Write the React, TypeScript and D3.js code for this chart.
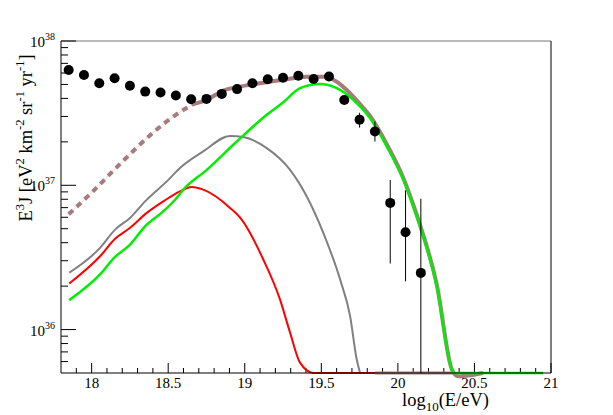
import React from 'react';
import * as d3 from 'd3';

// measured spectrum (log10 E, E^3 J) with asymmetric error bounds
const dataE = [17.85, 17.95, 18.05, 18.15, 18.25, 18.35, 18.45, 18.55, 18.65, 18.75, 18.85, 18.95,
  19.05, 19.15, 19.25, 19.35, 19.45, 19.55, 19.65, 19.75, 19.85, 19.95, 20.05, 20.15];
const dataFlux = [6.30e37, 5.82e37, 5.10e37, 5.52e37, 4.89e37, 4.46e37, 4.39e37, 4.19e37, 3.95e37, 3.97e37,
  4.30e37, 4.64e37, 5.10e37, 5.43e37, 5.57e37, 5.75e37, 5.46e37, 5.68e37, 3.90e37, 2.85e37, 2.36e37,
  7.55e36, 4.72e36, 2.47e36];
const dataHigh = [null, null, null, null, null, null, null, null, null, null, null, null,
  null, null, null, null, null, null, null, 3.18e37, 2.77e37, 1.09e37, 9.23e36, 8.07e36];
const dataLow = [null, null, null, null, null, null, null, null, null, null, null, null,
  null, null, null, null, null, null, null, 2.51e37, 2.01e37, 2.87e36, 2.16e36, 1e35];

// total model: dashed extrapolation then solid fit
const totalDashE = [17.85, 18.0, 18.2, 18.4, 18.55, 18.665];
const totalDashFlux = [6.3e36, 8.9e36, 1.456e37, 2.31e37, 3.08e37, 3.66e37];
const totalE = [18.665, 18.752, 18.86, 18.969, 19.10, 19.274, 19.405, 19.513, 19.557, 19.666, 19.753,
  19.818, 19.927, 20.036, 20.101, 20.145, 20.254, 20.352, 20.393, 20.471, 20.556];
const totalFlux = [3.66e37, 3.91e37, 4.53e37, 4.83e37, 5.10e37, 5.43e37, 5.66e37, 5.66e37, 5.52e37, 4.58e37,
  3.65e37, 3.02e37, 1.93e37, 1.12e37, 7.3e36, 5.3e36, 2.05e36, 5.31e35, 4.74e35, 4.82e35, 5.0e35];
const totalFloorE = [19.85, 20.36];
const totalFloorFlux = [5.0e35, 5.0e35];

const grayE = [17.854, 18.055, 18.153, 18.251, 18.349, 18.501, 18.577, 18.729, 18.904, 18.991, 19.144,
  19.296, 19.405, 19.513, 19.623, 19.688, 19.731, 19.753];
const grayFlux = [2.475e36, 3.68e36, 4.93e36, 5.94e36, 7.74e36, 1.09e37, 1.318e37, 1.716e37, 2.20e37,
  2.16e37, 1.81e37, 1.28e37, 8.37e36, 4.68e36, 2.22e36, 1.24e36, 6.22e35, 5.0e35];

const redE = [17.854, 18.055, 18.153, 18.251, 18.36, 18.468, 18.577, 18.654, 18.729, 18.904, 18.98,
  19.121, 19.23, 19.296, 19.361, 19.448, 19.85];
const redFlux = [2.087e36, 3.22e36, 4.26e36, 5.07e36, 6.44e36, 7.74e36, 9.08e36, 9.73e36, 9.33e36,
  6.97e36, 5.78e36, 3.06e36, 1.62e36, 9.52e35, 5.90e35, 5.0e35, 5.0e35];

const greenE = [17.854, 18.055, 18.153, 18.251, 18.349, 18.468, 18.545, 18.599, 18.752, 18.948, 19.144,
  19.252, 19.361, 19.492, 19.601, 19.709, 19.818, 19.927, 20.036, 20.101, 20.145, 20.254, 20.352, 20.37, 20.948];
const greenFlux = [1.60e36, 2.41e36, 3.19e36, 3.88e36, 5.20e36, 6.60e36, 7.94e36, 9.33e36, 1.28e37,
  2.01e37, 3.08e37, 3.76e37, 4.71e37, 5.04e37, 4.71e37, 3.91e37, 2.92e37, 1.86e37, 1.09e37, 7.15e36,
  5.20e36, 2.00e36, 5.31e35, 5.0e35, 5.0e35];

const W = 613;
const H = 415;
const left = 61;
const right = 551;
const top = 41;
const bottom = 373;
const font = '"Liberation Serif", "DejaVu Serif", serif';

const x = d3.scaleLinear().domain([17.8, 21]).range([left, right]);
const y = d3.scaleLog().domain([5e35, 1e38]).range([bottom, top]);

const pairs = (es: number[], fs: number[]) => es.map((e, i) => [e, fs[i]] as [number, number]);
const line = d3.line<[number, number]>()
  .x(d => x(d[0]))
  .y(d => y(d[1]))
  .curve(d3.curveMonotoneX);

export default function App() {
  const xTicks = d3.range(179, 211).map(d => d / 10);
  const yTicks: { v: number; major: boolean }[] = [];
  [35, 36, 37].forEach(k => {
    for (let m = 1; m <= 9; m++) {
      const v = m * Math.pow(10, k);
      if (v >= 5e35 && v <= 1e38) yTicks.push({ v, major: m === 1 });
    }
  });
  yTicks.push({ v: 1e38, major: true });

  return (
    <svg width={W} height={H} style={{ position: 'absolute', left: 0, top: 0, background: '#fff' }}
      fontFamily={font}>
      {/* frame */}
      <line x1={left} x2={right} y1={top} y2={top} stroke="#777" strokeWidth={1} />
      <line x1={right} x2={right} y1={top} y2={bottom} stroke="#000" strokeWidth={1} />

      {/* x ticks */}
      {xTicks.map(t => {
        const major = Math.round(t * 10) % 5 === 0;
        return (
          <line key={'xt' + t} x1={x(t)} x2={x(t)} y1={bottom} y2={bottom - (major ? 10 : 5)}
            stroke="#000" strokeWidth={1} />
        );
      })}
      {[18, 18.5, 19, 19.5, 20, 20.5, 21].map(t => (
        <text key={'xl' + t} x={x(t)} y={388} fontSize={15} textAnchor="middle">{t}</text>
      ))}

      {/* y ticks */}
      {yTicks.map(t => (
        <line key={'yt' + t.v} x1={left} x2={left + (t.major ? 15 : 7)} y1={y(t.v)} y2={y(t.v)}
          stroke="#000" strokeWidth={1} />
      ))}
      {[36, 37, 38].map(k => (
        <text key={'yl' + k} x={55} y={y(Math.pow(10, k)) + 6} fontSize={15} textAnchor="end">
          10<tspan dy={-7} fontSize={10}>{k}</tspan>
        </text>
      ))}

      {/* axis titles */}
      <text x={402} y={406} fontSize={18.5}>
        log<tspan dy={5} fontSize={13}>10</tspan><tspan dy={-5}>(E/eV)</tspan>
      </text>
      <text transform={`translate(32, 138) rotate(-90)`} fontSize={18.5} textAnchor="middle">
        E<tspan dy={-8} fontSize={12.5}>3</tspan><tspan dy={8}>J [eV</tspan>
        <tspan dy={-8} fontSize={12.5}>2</tspan><tspan dy={8}> km</tspan>
        <tspan dy={-8} fontSize={12.5}>-2</tspan><tspan dy={8}> sr</tspan>
        <tspan dy={-8} fontSize={12.5}>-1</tspan><tspan dy={8}> yr</tspan>
        <tspan dy={-8} fontSize={12.5}>-1</tspan><tspan dy={8}>]</tspan>
      </text>

      {/* model curves */}
      <path d={line(pairs(totalDashE, totalDashFlux)) ?? ''} fill="none" stroke="#f2e6e6" strokeWidth={1.2} />
      <path d={line(pairs(totalDashE, totalDashFlux)) ?? ''} fill="none" stroke="#a57b7b" strokeWidth={4}
        strokeDasharray="6,5" />
      <path d={line(pairs(totalE, totalFlux)) ?? ''} fill="none" stroke="#a57b7b" strokeWidth={4} />
      <path d={line(pairs(totalFloorE, totalFloorFlux)) ?? ''} fill="none" stroke="#a57b7b" strokeWidth={3} />
      <path d={line(pairs(grayE, grayFlux)) ?? ''} fill="none" stroke="#808080" strokeWidth={2} />
      <path d={line(pairs(redE, redFlux)) ?? ''} fill="none" stroke="#ff0000" strokeWidth={2} />
      <path d={line(pairs(greenE, greenFlux)) ?? ''} fill="none" stroke="#00ee00" strokeWidth={2.5} />

      {/* left and bottom axes */}
      <line x1={left} x2={left} y1={top} y2={bottom} stroke="#000" strokeWidth={1} />
      <line x1={left} x2={right} y1={bottom} y2={bottom} stroke="#000" strokeWidth={1} />

      {/* data */}
      {dataE.map((e, i) => {
        const hi = dataHigh[i];
        const lo = dataLow[i];
        if (hi == null || lo == null) return null;
        return (
          <line key={'eb' + i} x1={x(e)} x2={x(e)} y1={y(hi)} y2={Math.min(y(lo), bottom)}
            stroke="#000" strokeWidth={1} />
        );
      })}
      {dataE.map((e, i) => (
        <circle key={'pt' + i} cx={x(e)} cy={y(dataFlux[i])} r={5} fill="#000" />
      ))}
    </svg>
  );
}
